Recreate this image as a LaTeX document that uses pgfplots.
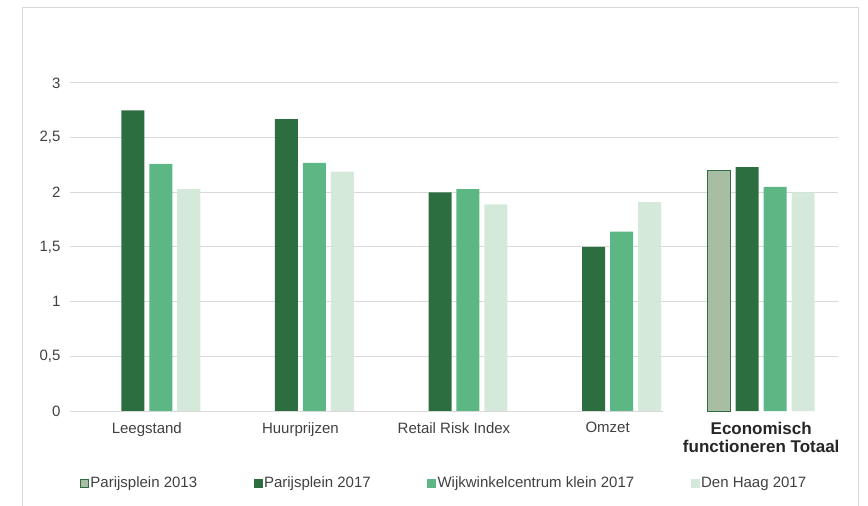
\documentclass[border=0pt]{standalone}
\usepackage{fontspec}
\setmainfont{Liberation Sans}
\usepackage{pgfplots}
\pgfplotsset{compat=1.18}
\definecolor{dkg}{HTML}{2C6E3F}
\definecolor{mdg}{HTML}{5DB784}
\definecolor{ltg}{HTML}{D4E9DA}
\definecolor{olg}{HTML}{A8BDA3}
\definecolor{gridc}{HTML}{D9D9D9}
\definecolor{txt}{HTML}{404040}
\definecolor{txtb}{HTML}{262626}
\newcommand{\bl}{\fontsize{17bp}{21bp}\selectfont\bfseries\color{txtb}}
\begin{document}
\begin{tikzpicture}
\useasboundingbox (-70bp,-95bp) rectangle (798bp,411bp);
\draw[gridc, line width=1bp] (-47bp,-120bp) -- (-47bp,403bp) -- (788bp,403bp) -- (788bp,-120bp);
\begin{axis}[
  width=768bp, height=328bp, scale only axis,
  xmin=-0.5, xmax=4.5, ymin=0, ymax=3,
  axis line style={draw=none}, major tick length=0,
  ytick={0.5,1,...,3}, extra y ticks={0}, extra y tick style={grid=none},
  ymajorgrids, grid style={gridc, line width=1bp},
  xtick={0,...,4},
  xticklabels={Leegstand, Huurprijzen, Retail Risk Index, Omzet, {\bl Economisch\\\bl functioneren Totaal}},
  xticklabel style={align=center, font=\fontsize{15bp}{18bp}\selectfont, text=txt, yshift=-8bp},
  yticklabel style={font=\fontsize{15bp}{18bp}\selectfont, text=txt, xshift=-6bp},
  /pgf/number format/use comma, /pgf/number format/assume math mode=true,
  legend columns=4,
  legend cell align=left,
  legend style={draw=none, fill=none, at={(axis description cs:0.013,-0.22)}, anchor=west,
    font=\fontsize{15bp}{18bp}\selectfont, text=txt, inner sep=0pt,
    nodes={inner sep=1.5bp},
    /tikz/every even column/.append style={column sep=55bp}},
]
\addplot[ybar, bar width=0.15, bar shift=-0.273, fill=olg, draw=dkg, line width=1bp,
  legend image code/.code={\draw[fill=olg,draw=dkg,line width=0.8bp] (0bp,-4bp) rectangle (8bp,4bp);}] coordinates {(4,2.20)};
\addplot[ybar, bar width=0.15, bar shift=-0.091, fill=dkg, draw=none,
  legend image code/.code={\fill[dkg] (-0.4bp,-4.4bp) rectangle (8.4bp,4.4bp);}] coordinates {(0,2.75)(1,2.67)(2,2.00)(3,1.50)(4,2.23)};
\addplot[ybar, bar width=0.15, bar shift=0.091, fill=mdg, draw=none,
  legend image code/.code={\fill[mdg] (-0.4bp,-4.4bp) rectangle (8.4bp,4.4bp);}] coordinates {(0,2.26)(1,2.27)(2,2.03)(3,1.64)(4,2.05)};
\addplot[ybar, bar width=0.15, bar shift=0.273, fill=ltg, draw=none,
  legend image code/.code={\fill[ltg] (-0.4bp,-4.4bp) rectangle (8.4bp,4.4bp);}] coordinates {(0,2.03)(1,2.19)(2,1.89)(3,1.91)(4,2.00)};
\legend{Parijsplein 2013, Parijsplein 2017, Wijkwinkelcentrum klein 2017, Den Haag 2017}
\draw[gridc, line width=1bp] (axis cs:-0.5,0) -- (axis cs:3.36,0);
\end{axis}
\end{tikzpicture}
\end{document}
